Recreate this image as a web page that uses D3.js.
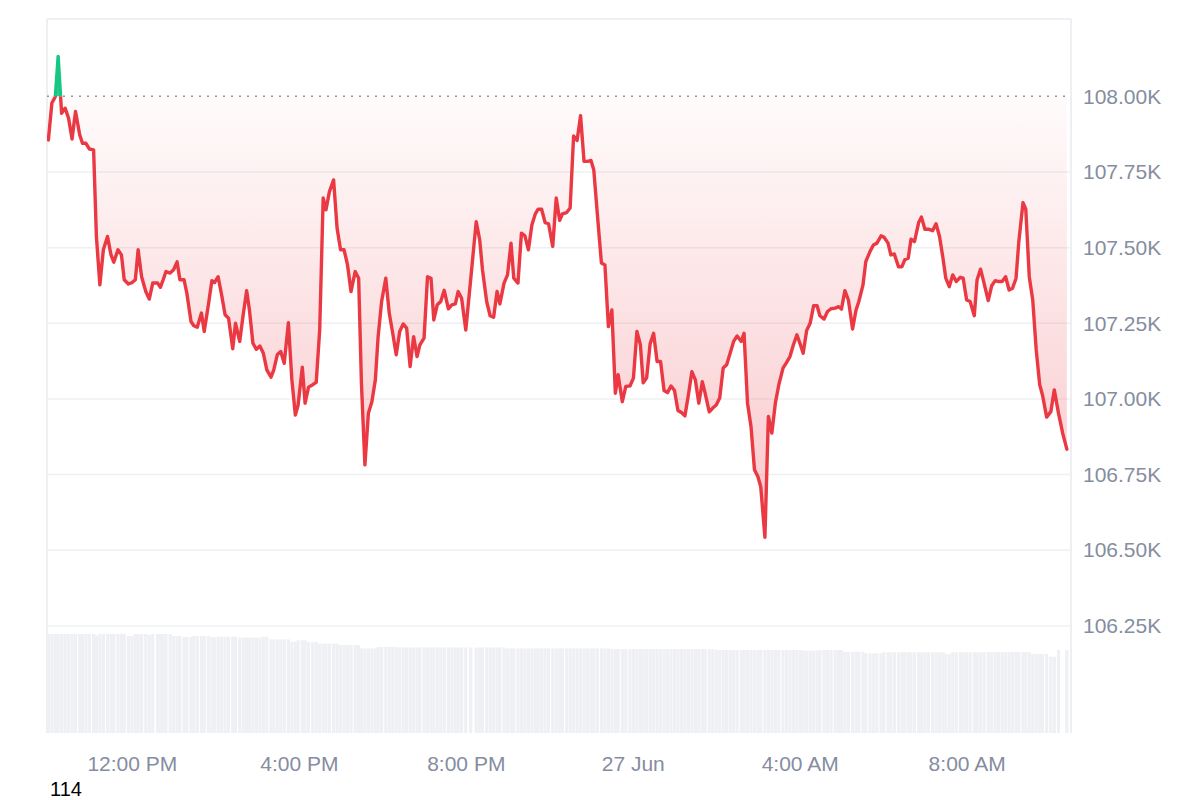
<!DOCTYPE html>
<html>
<head>
<meta charset="utf-8">
<script src="https://cdn.jsdelivr.net/npm/d3@7"></script>
<style>
  html, body { margin: 0; padding: 0; background: #ffffff; }
  svg { display: block; }
  text { font-family: "Liberation Sans", Arial, sans-serif; }
</style>
</head>
<body>
<svg id="chart" width="1200" height="800"></svg>
<script>
// ---- DATA ----
// minutes after 26 Jun 10:00 AM
const minutes = [
  0,5,10,14,19,24,29,34,39,45,49,54,59,65,69,74,79,85,90,94,100,105,109,115,120,125,129,134,140,145,
  150,157,161,165,169,175,180,185,189,195,199,205,209,214,220,224,230,235,239,244,249,254,259,265,269,275,280,285,
  289,294,299,304,309,314,320,324,329,334,339,345,350,355,359,365,369,374,380,385,390,395,399,404,410,415,
  420,425,430,435,441,446,450,455,460,465,470,474,479,485,490,495,500,505,510,515,520,525,530,534,540,545,
  550,554,559,564,569,575,
  580,585,589,594,600,607,615,620,624,630,635,640,645,649,655,660,665,669,675,680,685,690,695,700,704,709,
  714,719,725,730,735,739,745,750,755,760,765,770,775,780,784,789,795,800,805,810,815,819,825,830,836,841,
  846,851,855,860,865,
  870,875,880,885,890,895,900,905,910,915,920,925,930,935,940,944,950,955,960,965,970,975,980,985,990,996,
  1000,1005,1010,1015,1020,1024,1030,1035,1040,1045,1050,1056,1061,1066,1071,1076,1081,1085,1090,1095,1100,
  1105,1109,1115,1120,1125,1131,1136,1140,1145,
  1150,1156,1161,1165,1171,1175,1181,1186,1191,1197,1201,1207,1211,1216,1222,1227,1231,1236,1240,1245,1251,
  1255,1260,1265,1271,1276,1281,1286,1290,1295,1300,1305,1311,1315,1320,1325,1331,1335,1340,1345,1351,1356,
  1361,1366,1371,1376,1381,1386,1391,1395,1401,1405,1410,1415,1420,1425,1429,1435,1441,1446,1452,1458,1464
];

// BTC price in USD
const prices = [
  107856,107978,107999,108132,107944,107961,107928,107859,107950,107873,107845,107845,107826,107823,107537,
  107377,107493,107537,107476,107452,107493,107476,107394,107380,107384,107394,107493,107404,107355,107330,
  107383,107383,107369,107394,107421,107416,107427,107453,107394,107394,107350,107256,107242,107237,107284,
  107223,107311,107391,107385,107404,107344,107278,107267,107166,107250,107190,107278,107358,
  107294,107184,107164,107175,107151,107096,107072,107096,107146,107157,107118,107252,107063,106947,106980,
  107105,106986,107039,107047,107055,107228,107664,107625,107685,107724,107564,107493,107493,107443,107355,
  107421,107399,107052,106782,106953,106991,107063,107206,107322,107399,107283,107217,107146,107223,107248,
  107234,107107,107206,107140,107179,107201,107404,107399,107261,107311,107322,107359,107298,
  107311,107314,107355,107333,107228,107394,107586,107526,107427,107322,107275,107270,107355,107314,107383,
  107410,107515,107399,107383,107548,107539,107493,107575,107612,107627,107627,107583,107579,107504,107664,
  107590,107612,107616,107631,107869,107854,107936,107785,107785,107788,107757,107614,107449,107443,107239,
  107294,107019,107080,106991,107041,107043,107069,107223,107179,107053,107070,107182,
  107217,107124,107124,107028,107021,107043,107028,106962,106955,106944,107013,107090,107063,106986,107057,
  107019,106957,106970,106980,107003,107102,107113,107151,107190,107208,107190,107217,106986,106909,106766,
  106743,106710,106543,106942,106887,106986,107047,107102,107120,107140,107179,107212,107179,107151,107226,
  107250,107308,107308,107275,107264,107289,107298,107300,107305,107297,107358,
  107327,107231,107294,107322,107377,107454,107487,107509,107515,107539,107535,107515,107476,107479,107437,
  107437,107460,107465,107528,107520,107583,107601,107561,107561,107556,107579,107537,107465,107399,107371,
  107410,107388,107402,107399,107327,107322,107275,107394,107429,107383,107325,107374,107391,107388,107388,
  107404,107360,107366,107399,107520,107649,107627,107404,107327,107162,107047,107013,106940,106958,107030,
  106953,106887,106834
];

// 24h volume (USD billions) shown as bars, one per price point
const volumes = [
  44.0,44.0,44.0,44.0,44.0,44.0,44.0,44.0,44.0,44.0,44.0,44.0,44.0,44.0,43.3,
  44.0,44.0,44.0,44.0,44.0,44.0,44.0,44.0,43.1,43.1,44.0,44.0,44.0,44.0,43.5,
  44.0,44.0,44.0,44.0,44.0,44.0,43.1,43.1,43.1,42.7,42.7,42.7,43.1,43.1,43.1,
  43.1,43.1,42.6,42.6,42.8,42.8,42.8,42.8,42.8,42.8,42.4,42.4,42.4,42.4,42.4,
  42.4,42.4,42.8,42.8,41.6,41.6,41.6,41.6,41.6,41.6,40.6,40.6,41.2,41.2,41.2,
  40.4,40.4,40.4,39.7,39.7,39.7,39.7,39.7,39.7,39.1,39.1,39.1,39.1,39.1,39.1,
  37.6,37.6,37.6,37.6,37.6,38.2,38.2,38.2,38.2,38.2,38.2,
  38.0,38.0,38.0,38.0,38.0,38.0,38.0,38.0,38.0,38.0,38.0,38.0,38.0,38.0,38.0,
  38.0,38.0,38.0,38.0,38.0,38.0,38.0,38.0,38.0,38.0,38.0,38.0,38.0,38.0,38.0,
  37.6,37.6,37.6,37.6,37.6,37.6,37.6,37.6,37.6,37.6,37.6,37.6,37.6,37.6,37.6,
  37.6,37.6,37.6,37.6,37.6,37.6,37.6,37.6,37.6,37.6,37.6,37.6,37.6,37.6,37.6,
  37.3,37.3,37.3,37.3,37.3,37.3,37.3,37.3,37.3,37.3,37.3,37.3,37.3,37.3,37.3,
  37.3,37.3,37.3,37.3,37.3,37.3,37.3,37.3,37.3,37.3,37.3,37.3,37.3,37.3,37.3,
  36.9,36.9,36.9,36.9,36.9,36.9,36.9,36.9,36.9,36.9,36.9,36.9,36.9,36.9,36.9,
  36.9,36.9,36.9,36.9,36.9,36.9,36.9,36.9,36.9,36.9,
  36.6,36.6,36.6,36.6,36.6,36.9,36.9,36.9,36.9,36.9,36.9,36.9,
  36.1,36.1,36.1,36.1,36.1,36.1,35.4,35.4,35.4,35.4,35.4,
  35.9,35.9,35.9,35.9,35.9,35.9,35.9,35.9,35.9,35.9,35.9,35.9,35.9,35.9,35.9,35.9,35.9,35.9,
  35.1,35.1,35.9,35.9,35.9,35.9,35.9,35.9,35.9,35.9,35.9,35.9,
  36.0,36.0,36.0,36.0,36.0,36.0,36.0,36.0,36.0,36.0,36.0,36.0,36.0,
  35.1,35.1,35.1,35.1,35.1,33.9,33.9,36.9,0,36.9
];

const baselinePrice = 108000;
const priceTicks = [106250, 106500, 106750, 107000, 107250, 107500, 107750, 108000];
const cornerLabel = "114";

// ---- CHART ----
const svg = d3.select("#chart");
const W = 1200, H = 800;
const pL = 47, pR = 1071, pT = 19, pB = 733;

const start = new Date(2025, 5, 26, 10, 0);
const data = minutes.map((m, i) => ({
  t: new Date(start.getTime() + m * 60000),
  p: prices[i],
  v: volumes[i]
}));

const x = d3.scaleTime()
  .domain([new Date(2025, 5, 26, 9, 58), new Date(2025, 5, 27, 10, 30)])
  .range([pL, pR]);

const y = d3.scaleLinear()
  .domain([105896, 108259])
  .range([pB, 18]);

const yVol = d3.scaleLinear().domain([0, 44]).range([pB, 634]);

const red = "#ea3943", green = "#16c784";
const yBase = y(baselinePrice);

const defs = svg.append("defs");
const gRed = defs.append("linearGradient").attr("id", "gRed")
  .attr("gradientUnits", "userSpaceOnUse")
  .attr("x1", 0).attr("x2", 0).attr("y1", yBase).attr("y2", y(d3.min(prices)));
gRed.append("stop").attr("offset", 0).attr("stop-color", red).attr("stop-opacity", 0.02);
gRed.append("stop").attr("offset", 1).attr("stop-color", red).attr("stop-opacity", 0.28);

const gGreen = defs.append("linearGradient").attr("id", "gGreen")
  .attr("gradientUnits", "userSpaceOnUse")
  .attr("x1", 0).attr("x2", 0).attr("y1", yBase).attr("y2", y(d3.max(prices)));
gGreen.append("stop").attr("offset", 0).attr("stop-color", green).attr("stop-opacity", 0.85);
gGreen.append("stop").attr("offset", 1).attr("stop-color", green).attr("stop-opacity", 1);

defs.append("clipPath").attr("id", "clipAbove").append("rect")
  .attr("x", pL).attr("y", 0).attr("width", pR - pL).attr("height", yBase);
defs.append("clipPath").attr("id", "clipBelow").append("rect")
  .attr("x", pL).attr("y", yBase).attr("width", pR - pL).attr("height", H - yBase);

// volume bars
svg.append("g").selectAll("rect").data(data.filter(d => d.v > 0)).join("rect")
  .attr("x", d => x(d.t) - 1.6)
  .attr("width", 3.2)
  .attr("y", d => yVol(d.v))
  .attr("height", d => yVol(0) - yVol(d.v))
  .attr("fill", "#eef0f3");

// grid lines
svg.append("g").selectAll("line").data(priceTicks.filter(v => v !== baselinePrice)).join("line")
  .attr("x1", pL).attr("x2", pR)
  .attr("y1", d => y(d)).attr("y2", d => y(d))
  .attr("stroke", "#eff0f3").attr("stroke-width", 1.5);

// frame
const frame = svg.append("g").attr("stroke", "#eeeff2").attr("stroke-width", 2).attr("fill", "none");
frame.append("line").attr("x1", pL).attr("x2", pR).attr("y1", pT).attr("y2", pT);
frame.append("line").attr("x1", pL).attr("x2", pL).attr("y1", pT).attr("y2", pB);
frame.append("line").attr("x1", pR).attr("x2", pR).attr("y1", pT).attr("y2", pB);

// areas (below and above the baseline)
const areaBelow = d3.area().x(d => x(d.t)).y0(yBase).y1(d => Math.max(y(d.p), yBase));
const areaAbove = d3.area().x(d => x(d.t)).y0(yBase).y1(d => Math.min(y(d.p), yBase));
svg.append("path").datum(data).attr("d", areaBelow).attr("fill", "url(#gRed)");
svg.append("path").datum(data).attr("d", areaAbove).attr("fill", "url(#gGreen)");

// baseline dotted
svg.append("line")
  .attr("x1", pL).attr("x2", pR).attr("y1", yBase).attr("y2", yBase)
  .attr("stroke", "#8f95a3").attr("stroke-width", 1.5).attr("stroke-dasharray", "2,6");

// line
const line = d3.line().x(d => x(d.t)).y(d => y(d.p));
svg.append("path").datum(data).attr("d", line)
  .attr("fill", "none").attr("stroke", red).attr("stroke-width", 3.4)
  .attr("stroke-linejoin", "round").attr("stroke-linecap", "round")
  .attr("clip-path", "url(#clipBelow)");
svg.append("path").datum(data).attr("d", line)
  .attr("fill", "none").attr("stroke", green).attr("stroke-width", 3.4)
  .attr("stroke-linejoin", "round").attr("stroke-linecap", "round")
  .attr("clip-path", "url(#clipAbove)");

// y axis labels
const yAxis = d3.axisRight(y).tickValues(priceTicks).tickSize(0).tickPadding(0)
  .tickFormat(v => (v / 1000).toFixed(2) + "K");
svg.append("g").attr("transform", `translate(1083,0)`).call(yAxis)
  .call(g => g.select(".domain").remove())
  .call(g => g.selectAll("text").attr("fill", "#858d9f")
    .attr("font-size", 21).attr("font-family", "'Liberation Sans', Arial, sans-serif"));

// x axis labels
const fmt = d => (d.getHours() === 0 ? d3.timeFormat("%-d %b")(d) : d3.timeFormat("%-I:%M %p")(d));
const xAxis = d3.axisBottom(x).ticks(d3.timeHour.every(4)).tickSize(0).tickPadding(0).tickFormat(fmt);
svg.append("g").attr("transform", `translate(0,756)`).call(xAxis)
  .call(g => g.select(".domain").remove())
  .call(g => g.selectAll("text").attr("fill", "#858d9f").attr("dy", "0.71em")
    .attr("font-size", 21).attr("font-family", "'Liberation Sans', Arial, sans-serif"));

// corner label
svg.append("text").attr("x", 50).attr("y", 796).attr("font-size", 20).attr("fill", "#000")
  .text(cornerLabel);
</script>
</body>
</html>
